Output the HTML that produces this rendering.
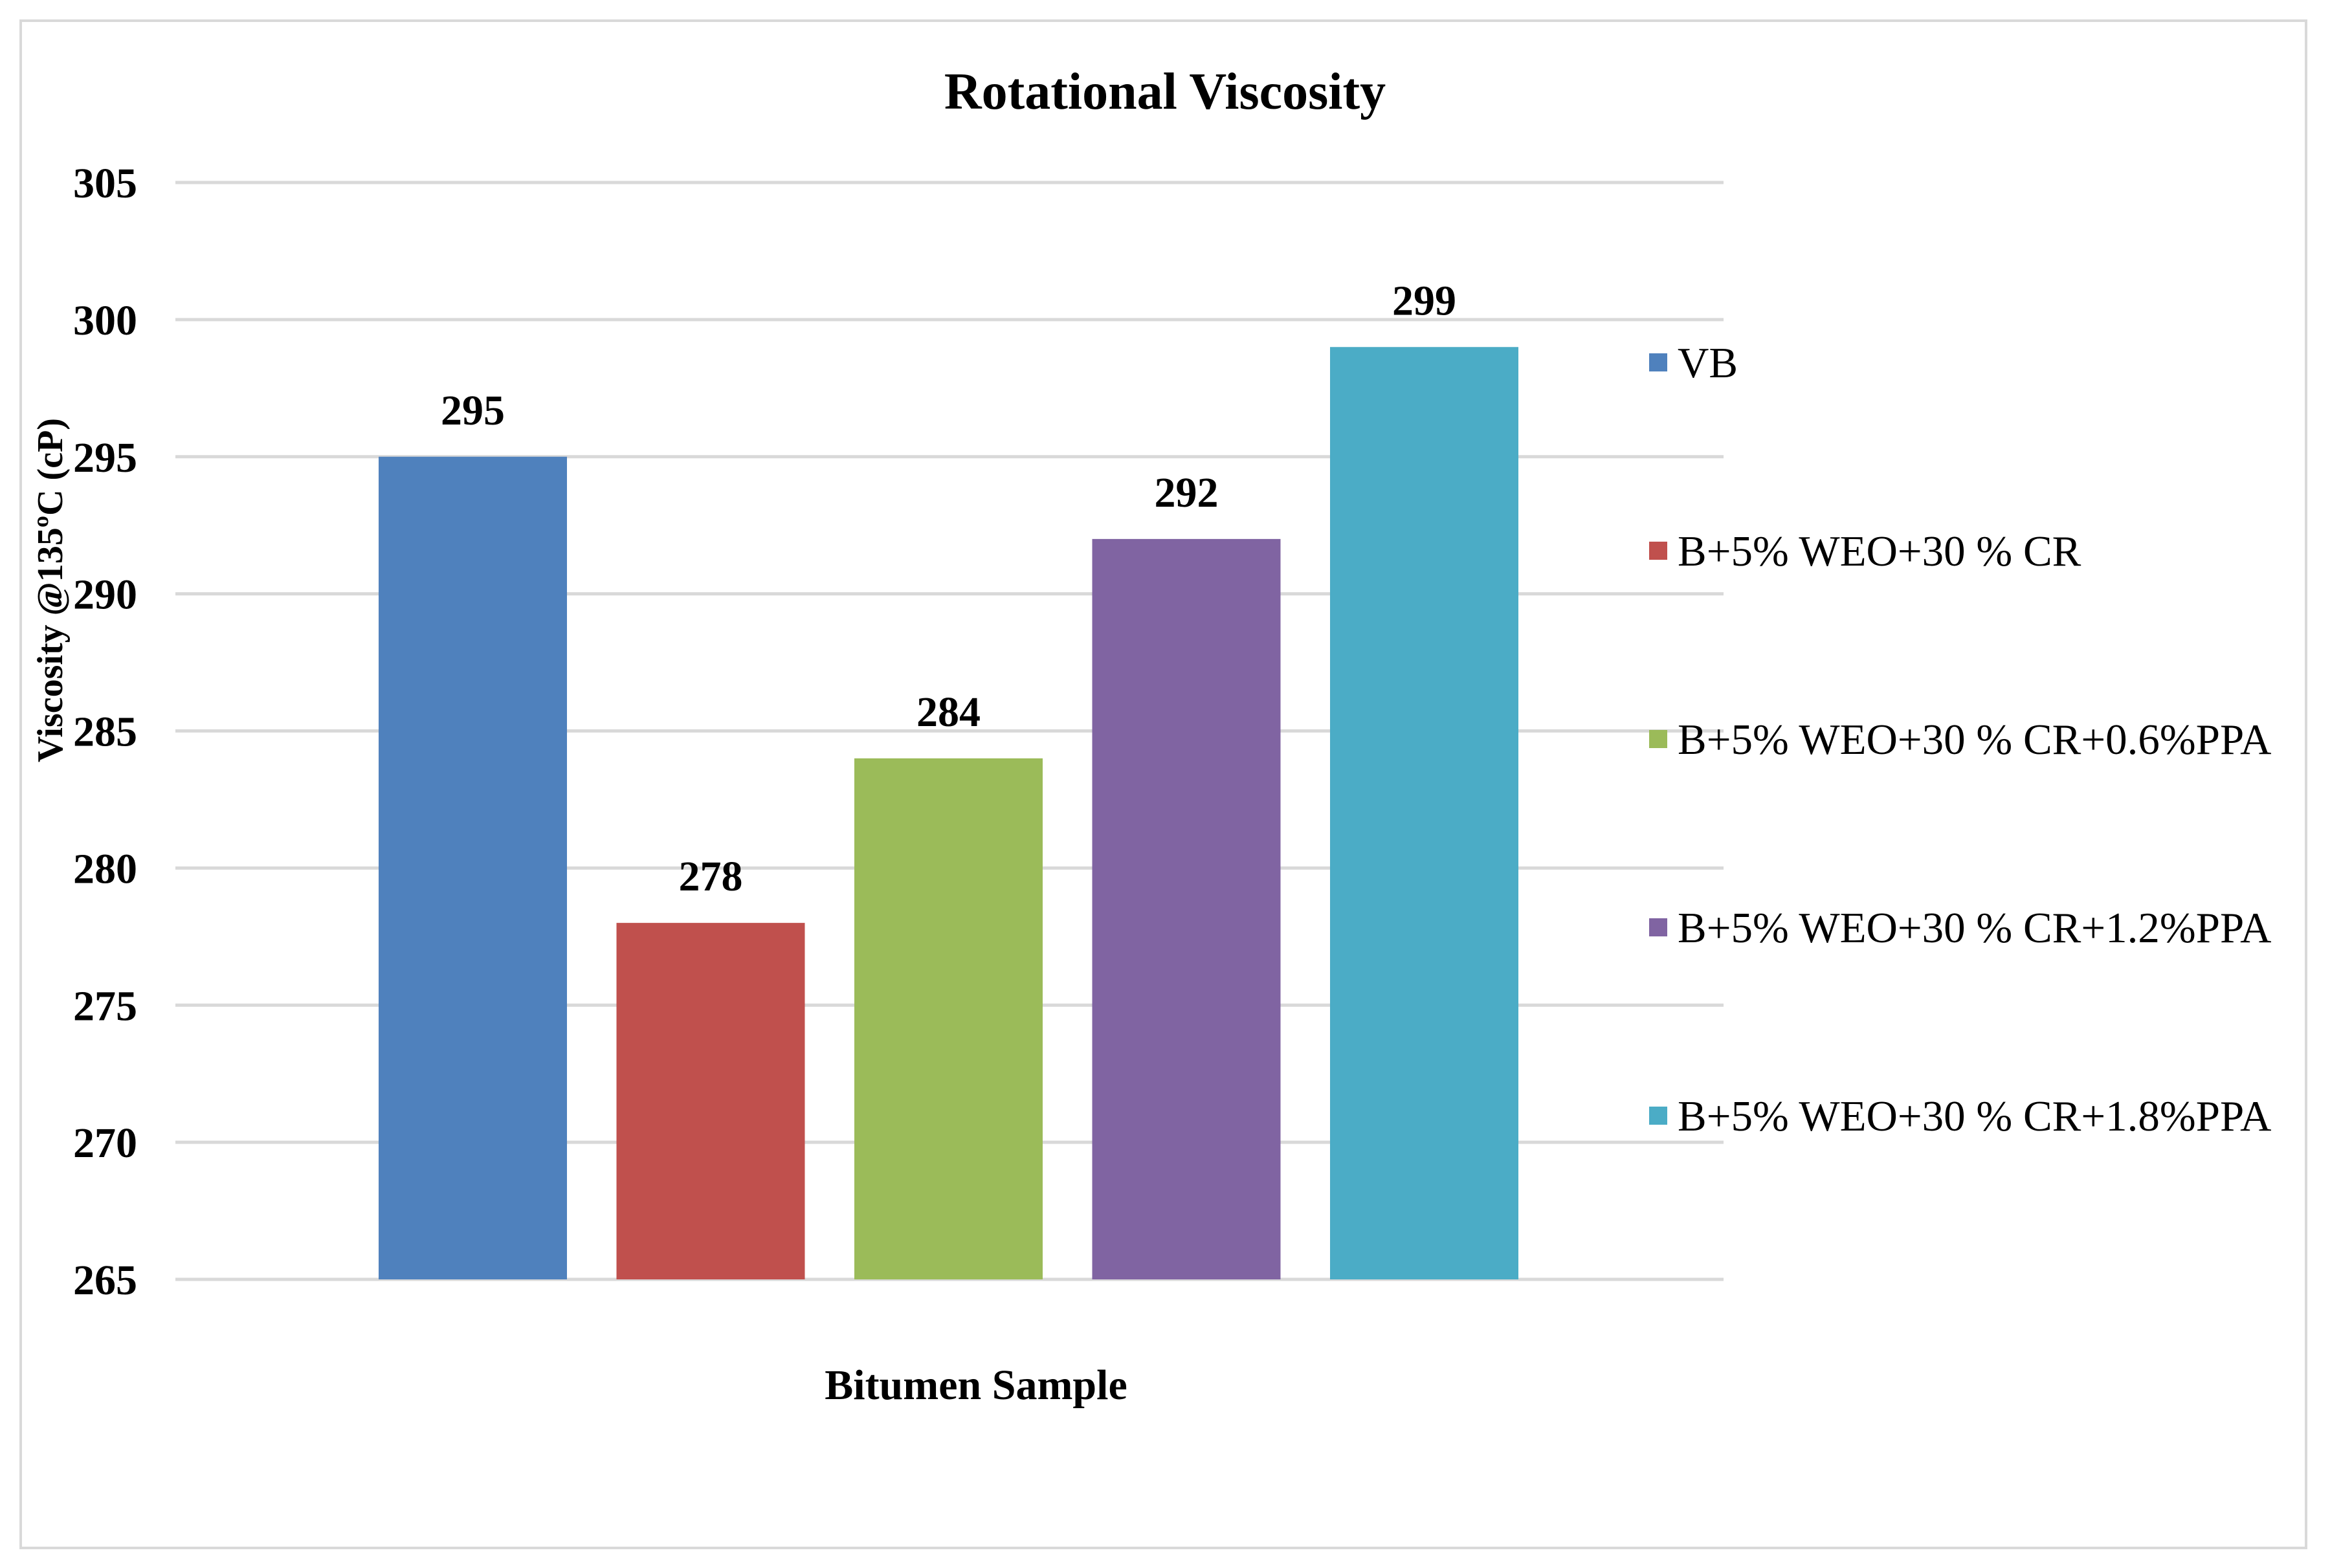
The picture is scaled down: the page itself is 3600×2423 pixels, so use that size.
<!DOCTYPE html>
<html><head><meta charset="utf-8"><style>
html,body{margin:0;padding:0;background:#fff;}
svg{display:block;font-family:"Liberation Serif",serif;}
</style></head><body>
<svg id="chart" width="3600" height="2423" viewBox="0 0 3600 2423">
<rect x="32" y="32" width="3531" height="2360" fill="#fff" stroke="#d9d9d9" stroke-width="4"/>
<text x="1800" y="168" text-anchor="middle" font-size="80" font-weight="bold">Rotational Viscosity</text>
<g id="grid"></g><g id="bars"></g><g id="labels"></g><g id="legend"></g>
<text x="1508" y="2162" text-anchor="middle" font-size="66" font-weight="bold">Bitumen Sample</text>
<text transform="translate(96,912) rotate(-90)" text-anchor="middle" font-size="56" font-weight="bold">Viscosity @135ºC (cP)</text>
</svg>
<script>
const categories=["VB","B+5% WEO+30 % CR","B+5% WEO+30 % CR+0.6%PPA","B+5% WEO+30 % CR+1.2%PPA","B+5% WEO+30 % CR+1.8%PPA"];
const values=[295,278,284,292,299];
const colors=["#4f81bd","#c0504d","#9bbb59","#8064a2","#4bacc6"];
const ticks=[265,270,275,280,285,290,295,300,305];
const NS="http://www.w3.org/2000/svg";
const x0=271,x1=2663,yTop=282,yBot=1977,vMin=265,vMax=305;
const y=v=>yBot-(v-vMin)/(vMax-vMin)*(yBot-yTop);
const barX=i=>585+i*367.5;
const bw=291;
function mk(t,a,p){const e=document.createElementNS(NS,t);for(const k in a)e.setAttribute(k,a[k]);document.getElementById(p).appendChild(e);return e;}
ticks.forEach(t=>{
 const l=mk("line",{x1:x0,x2:x1,y1:y(t),y2:y(t),stroke:"#d9d9d9","stroke-width":5},"grid");
 
 
 const tx=mk("text",{x:212,y:y(t)+23,"text-anchor":"end","font-size":66,"font-weight":"bold"},"grid");
 tx.textContent=t;
 
 
});
values.forEach((v,i)=>{
 const r=mk("rect",{x:barX(i),y:y(v),width:bw,height:yBot-y(v),fill:colors[i]},"bars");
 
 
 const t=mk("text",{x:barX(i)+bw/2,y:y(v)-50,"text-anchor":"middle","font-size":66,"font-weight":"bold"},"labels");
 t.textContent=v;
 
 
 const ly=560+i*291;
 const s=mk("rect",{x:2548,y:ly-14,width:28,height:28,fill:colors[i]},"legend");
 
 
 const lt=mk("text",{x:2592,y:ly+23,"font-size":67},"legend");
 lt.textContent=categories[i];
 
 
});
</script>
</body></html>
